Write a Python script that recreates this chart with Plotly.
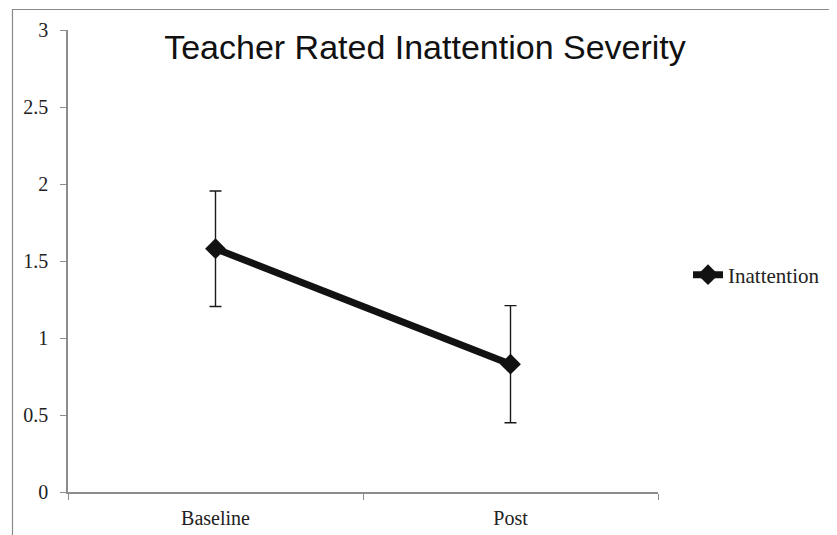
import plotly.graph_objects as go

categories = ["Baseline", "Post"]
means = [1.58, 0.83]
errors = [0.375, 0.38]
series_name = "Inattention"
title_text = "Teacher Rated Inattention Severity"

W, H = 837, 535
OFF = 8  # page body margin
L, T = 68 - OFF, 30 - OFF
R = W - (658 - OFF)
B = H - (492 - OFF)
pw = W - L - R
ph = H - T - B

fig = go.Figure()
fig.add_trace(go.Scatter(
    x=categories, y=means, name=series_name, mode="lines+markers",
    line=dict(color="#121212", width=7),
    marker=dict(symbol="diamond", size=16, color="#121212"),
    error_y=dict(type="data", array=errors, visible=True, color="#1a1a1a",
                 thickness=1.4, width=6),
))

axis_color = "#8c8c8c"
fig.update_layout(
    width=W, height=H,
    margin=dict(l=L, r=R, t=T, b=B, autoexpand=False),
    paper_bgcolor="white", plot_bgcolor="white",
    showlegend=True,
    legend=dict(x=(688 - 68) / pw, y=(492 - 275) / ph, xanchor="left", yanchor="middle",
                font=dict(family="Liberation Serif", size=21, color="#222"),
                bgcolor="rgba(0,0,0,0)", itemwidth=30),
    title=dict(text=title_text, x=(425 - OFF) / W, y=1 - (47 - OFF) / H, xanchor="center",
               yanchor="middle", xref="container", yref="container",
               font=dict(family="Liberation Sans", size=34, color="#111")),
    font=dict(family="Liberation Serif", size=20, color="#222"),
)
fig.update_xaxes(
    type="category", showline=True, linecolor=axis_color, linewidth=1.5,
    ticks="outside", tickson="boundaries", ticklen=6, tickcolor=axis_color,
    showgrid=False, zeroline=False, range=[-0.5, 1.5], automargin=False,
    ticklabelstandoff=7,
    tickfont=dict(family="Liberation Serif", size=20, color="#222"),
)
fig.update_yaxes(
    range=[0, 3], tickvals=[0, 0.5, 1, 1.5, 2, 2.5, 3],
    ticktext=["0", "0.5", "1", "1.5", "2", "2.5", "3"],
    showline=True, linecolor=axis_color, linewidth=1.5,
    ticks="outside", ticklen=6, tickcolor=axis_color,
    showgrid=False, zeroline=False, ticklabelstandoff=8, automargin=False,
    tickfont=dict(family="Liberation Serif", size=20, color="#222"),
)
# outer frame (left and top edges visible)
fig.add_shape(type="rect", xref="paper", yref="paper",
              x0=(12.5 - 68) / pw, x1=(W + 20 - 68) / pw,
              y0=-(H + 20 - 492) / ph, y1=1 + (30 - 9.5) / ph,
              line=dict(color="#8a8a8a", width=1.2), layer="below")

fig.write_html("out.html")
